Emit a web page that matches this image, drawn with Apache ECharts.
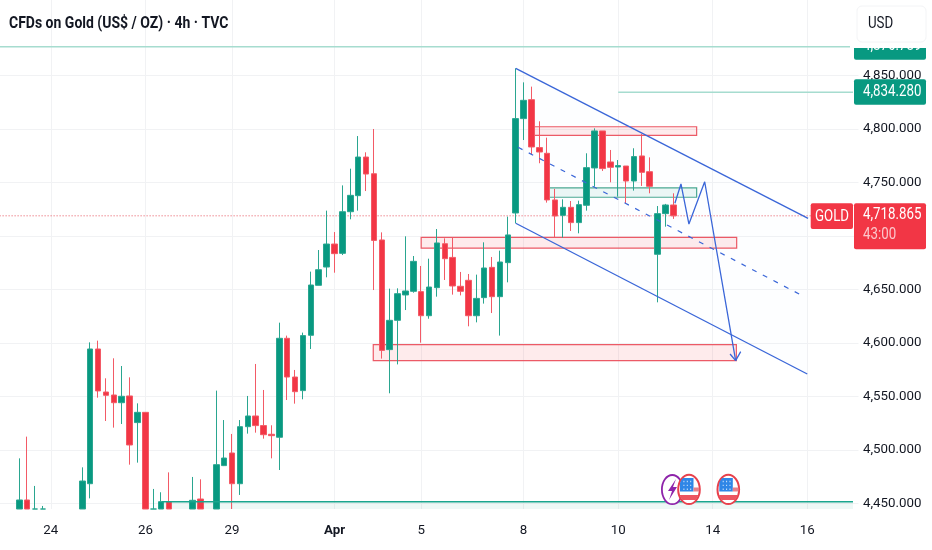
<!DOCTYPE html>
<html>
<head>
<meta charset="utf-8">
<style>html,body{margin:0;padding:0;background:#fff}#c{width:932px;height:550px}</style>
<script src="https://cdn.jsdelivr.net/npm/echarts@6/dist/echarts.min.js"></script>
</head>
<body>
<div id="c"></div>
<script>
// ---------- values (slot index = one 4h bar) ----------
const tickSlots = [6,18,29,42,53,66,78,90,102];
const tickLabels = ['24','26','29','Apr','5','8','10','14','16'];
const priceTicks = [4450,4500,4550,4600,4650,4700,4750,4800,4850];
const N = null;
const F = 4444.86; // parts of a bar below the visible floor of the chart
const opens = [N,N,F,4453.3,F,F,N,N,N,N,F,4468.5,4594.4,4554.2,4551.4,4544.2,4550.5,4525.6,4535.2,F,F,4451.7,N,N,F,4454.2,N,F,4485.4,4497.2,4468.5,4521.8,4531.8,4522.8,4514.7,4511.9,4604.4,4568.2,4555.5,4607.2,4653.9,4671,4692.5,4683.8,4722.7,4737.7,4773.8,4758.2,4696.3,4593.8,4621.2,4644.9,4648.3,4648,4625.5,4651.7,4692.8,4680,4653,4658.6,4625.5,4642.4,4670.7,4643.3,4675.1,4721.5,4809.7,4827.4,4782.6,4777.3,4733.7,4719.3,4726.8,4712.5,4728.7,4763.6,4798.2,4769.2,4764.5,4765.4,4751.4,4774.8,4760.1,4682.9,4720.9,4729];
const closes = [N,N,4453.3,F,F,F,N,N,N,N,4471,4594.4,4555.2,4551.1,4544.2,4550.2,4504.7,4535.2,F,F,4451.7,F,N,N,4453,F,N,4486.3,4492.5,4468.5,4521.8,4531.8,4522.8,4514.3,4513.4,4604.4,4568.2,4554.5,4606.9,4654.2,4668.5,4692.5,4683.5,4722.7,4738,4773.8,4757.9,4695.9,4593.1,4621.2,4646.1,4648.6,4676.3,4625.5,4652.3,4693.5,4678.8,4653.3,4648.3,4625.5,4641.7,4670.1,4643.3,4675.7,4701,4809.7,4826.8,4783.2,4778.5,4733.7,4718.7,4726.8,4712.5,4729.3,4763.9,4798.2,4763,4764.2,4765.8,4751.4,4774.2,4759.5,4746.4,4720.9,4729,4718.865];
const lows = [N,N,F,F,F,F,N,N,N,N,F,4454.8,4548.9,4527.1,4520.9,4524.3,4486.3,4488.2,F,F,F,F,N,N,F,F,N,F,4485,F,4458,4515.3,4516.2,4510.6,4492.2,4481.3,4546.7,4543.3,4547.4,4594.4,4653.9,4661.4,4665.7,4682.2,4715.6,4723.7,4742,4649.5,4585.4,4553,4580,4630.8,4647,4600.3,4622.7,4643.3,4658.9,4645.2,4644.5,4615.6,4619.3,4636.8,4628,4606.9,4656.7,4711.9,4789.7,4775.7,4768,4731.2,4698.5,4698.5,4704.7,4702.5,4723.7,4746.1,4760.8,4750.2,4736.8,4730.6,4742.4,4746.8,4739.9,4638,4708.7,4716];
const highs = [N,N,4492.2,4512.5,4466.4,4447.7,N,N,N,N,4483.8,4600.6,4602.2,4567,4585.7,4578.5,4567.9,4543.6,4535.5,4463.6,4460.5,4479.1,N,N,4474.8,4472.6,N,4555.5,4528,4515,4528,4550.5,4580.4,4556.1,4523.1,4619,4606.9,4574.8,4609.7,4666.7,4686.9,4723.7,4703.7,4747.3,4762.9,4793.4,4778.2,4800,4703.4,4650.8,4651.1,4699.7,4681.3,4672,4678.8,4706.5,4697.8,4698.4,4666.4,4664.5,4663.9,4694.1,4680.4,4686.3,4718.1,4856.7,4843.6,4839.6,4807.2,4791.9,4744,4734.3,4732.7,4733,4777.3,4800.6,4798.2,4780.4,4771,4765.4,4782,4795.3,4773.5,4728,4730,4739.9];

const channelUpper = [[65,4856.7],[102.1,4716.4]];
const channelLower = [[65,4711.9],[102,4571]];
const channelMid = [[65.3,4782.9],[101.7,4643]];
const projection = [[85.2,4730.6],[85.97,4748.6],[86.98,4711.2],[88.98,4750.7],[92.91,4583.5]];
const arrowHead = [[92.2,4589.7],[92.91,4583.5],[93.55,4591.9]];
const redZones = [[67.06,87.96,4802.1,4794.1],[53,93.04,4698.8,4688.6],[46.92,93,4598.4,4583.5]];
const greenZones = [[69.13,87.96,4744.9,4736.2]];
const floorZone = [[20.07,107.8,4451.7,4444.86]];
const floorLine = [[20.07,4451.7],[107.8,4451.7]];
const topLevel = [[-0.5,4876.9],[107.8,4876.9]];
const targetLevel = [[78,4834.28],[107.8,4834.28]];
const lastPrice = [[-0.5,4718.865],[107.8,4718.865]];

const SLOTS = 109;
const categories = Array.from({length:SLOTS},(_,i)=>String(i));
const candles = categories.map((_,i)=> opens[i]==null ? '-' : [opens[i],closes[i],lows[i],highs[i]]);

const FONT = 'Roboto,sans-serif';
const GREEN='#089981', RED='#F23645', BLUE='#3a66d8', INK='#131722', GRID='#f1f2f4';

function zoneSeries(data,fill,stroke,z,lw){
  return {type:'custom',xAxisIndex:1,yAxisIndex:0,z,silent:true,clip:true,data,
    encode:{x:[0,1],y:[2,3]},
    renderItem(p,api){
      const a=api.coord([api.value(0),api.value(2)]), b=api.coord([api.value(1),api.value(3)]);
      return {type:'rect',shape:{x:a[0],y:a[1],width:b[0]-a[0],height:b[1]-a[1]},
        style:{fill,stroke,lineWidth:lw}};
    }};
}
function lineSeries(data,color,width,z,type){
  return {type:'line',xAxisIndex:1,yAxisIndex:0,data,z,silent:true,showSymbol:false,symbol:'none',
    lineStyle:{color,width,type:type||'solid'},clip:true};
}
const channelFillData=[channelUpper[0],channelUpper[1],channelLower[1],channelLower[0]];

// ---------- decoration (badges and event icons) ----------
function clipped(cx,cy,rx,ry,x0,x1,y0,y1){
  const L=[],R=[];
  for(let i=0;i<=14;i++){
    const y=y0+(y1-y0)*i/14, t=(y-cy)/ry, w=rx*Math.sqrt(Math.max(0,1-t*t));
    L.push([Math.max(x0,Math.min(x1,cx-w)),y]); R.unshift([Math.min(x1,Math.max(x0,cx+w)),y]);
  }
  return L.concat(R);
}
function flag(cx,cy){
  const rx=10.8, ry=14.6, els=[];
  els.push({type:'ellipse',z:90,shape:{cx,cy,rx,ry},style:{fill:'#fff',stroke:'#e8404c',lineWidth:2}});
  els.push({type:'polygon',z:91,shape:{points:clipped(cx,cy,rx-.6,ry-.6,cx-9,cx+4.5,cy-11.5,cy+2)},style:{fill:'#2f86e6'}});
  for(let i=0;i<3;i++)for(let j=0;j<3;j++)
    els.push({type:'rect',z:92,shape:{x:cx-5.6+i*3.4,y:cy-8.6+j*3.9,width:1,height:1.4},style:{fill:'#cfe4fb'}});
  els.push({type:'polygon',z:91,shape:{points:clipped(cx,cy,rx-.6,ry-.6,cx+4.5,cx+11,cy-2,cy+2)},style:{fill:'#e8818a'}});
  els.push({type:'polygon',z:91,shape:{points:clipped(cx,cy,rx-.6,ry-.6,cx-11,cx+11,cy+5.5,cy+10.5)},style:{fill:'#ec5560'}});
  return els;
}
function badge(x,y,w,h,fill,r){return {type:'rect',z:100,shape:{x,y,width:w,height:h,r:r||2},style:{fill}};}
function txt(x,y,text,fill,opt,z){
  return {type:'text',z:z||102,x,y,scaleY:1.2,style:Object.assign({text,fill,font:'13.3px '+FONT,verticalAlign:'middle'},opt||{})};
}
const graphics=[
  {type:'ellipse',z:88,shape:{cx:672.3,cy:489.6,rx:10.4,ry:14.6},style:{fill:'#fff',stroke:'#8e24aa',lineWidth:1.8}},
  {type:'polygon',z:89,shape:{points:[[676,479],[668,491],[672,491],[669,500],[677,487],[673,487]]},style:{fill:'#8e24aa'}},
  ...flag(689,489.4),
  ...flag(728.3,489.4),
  badge(854,33,72,26.7,GREEN),
  txt(863,46.2,'4,876.789','#fff'),
  {type:'rect',z:103,shape:{x:850,y:0,width:82,height:48},style:{fill:'#fff'}},
  {type:'rect',z:104,shape:{x:857,y:6,width:69,height:36,r:5},style:{fill:'#fff',stroke:'#f3f4f6',lineWidth:1}},
  txt(868,24,'USD',INK,null,105),
  badge(854,79.3,72,25.4,GREEN),
  txt(863,91.6,'4,834.280','#fff'),
  badge(810.7,203.3,42.3,25.8,RED),
  txt(832,217,'GOLD','#fff',{align:'center'}),
  badge(854,203.3,72,46,RED),
  txt(863,215,'4,718.865','#fff'),
  txt(863,235,'43:00','rgba(255,255,255,.72)'),
  txt(9,24,'CFDs on Gold (US$ / OZ) · 4h · TVC','#131722',{font:'bold 14px '+FONT})
];

const chart=echarts.init(document.getElementById('c'),null,{renderer:'canvas'});
chart.setOption({
  animation:false,
  backgroundColor:'#fff',
  grid:{left:-0.4,top:0,width:858.9,height:509,containLabel:false,outerBoundsMode:'none'},
  xAxis:[
    {type:'category',data:categories,show:false,boundaryGap:true},
    {type:'value',position:'bottom',min:-0.5,max:SLOTS-0.5,
      axisLine:{show:false},
      axisTick:{show:false,customValues:tickSlots},
      splitLine:{show:true,lineStyle:{color:GRID,width:1}},
      axisLabel:{show:true,customValues:tickSlots,margin:15,
        color:INK,fontFamily:FONT,fontSize:13.3,
        formatter:v=>{const s=tickLabels[tickSlots.indexOf(v)]||'';return s==='Apr'?'{b|Apr}':s;},
        rich:{b:{fontWeight:'bold',fontFamily:FONT,fontSize:13.3,color:INK}}}}
  ],
  yAxis:{type:'value',position:'right',scale:true,min:4444.86,max:4920.56,
    axisLine:{show:false},
    axisTick:{show:false,customValues:priceTicks},
    splitLine:{show:true,lineStyle:{color:GRID,width:1}},
    axisLabel:{show:true,customValues:priceTicks,margin:4.5,color:INK,fontFamily:FONT,fontSize:13.3,
      padding:[0,0,3,0],
      formatter:v=>v.toLocaleString('en-US',{minimumFractionDigits:3,maximumFractionDigits:3})}},
  series:[
    {type:'custom',xAxisIndex:1,yAxisIndex:0,z:1,silent:true,data:channelFillData,encode:{x:0,y:1},
      renderItem(p,api){
        if(p.dataIndex!==0)return null;
        return {type:'polygon',shape:{points:channelFillData.map(d=>api.coord(d))},
          style:{fill:'rgba(80,140,255,0.012)'}};
      }},
    zoneSeries(floorZone,'rgba(8,153,129,0.07)','none',1,0),
    zoneSeries(redZones,'rgba(242,54,69,0.10)','#ec5a66',1,1.2),
    zoneSeries(greenZones,'rgba(8,153,129,0.08)','#4aa892',1,1.2),
    lineSeries(lastPrice,'#e5505c',1,1,[1,2]),
    {type:'candlestick',xAxisIndex:0,yAxisIndex:0,z:2,data:candles,barWidth:6,clip:true,silent:true,
      itemStyle:{color:GREEN,color0:RED,borderColor:'#2aa690',borderColor0:'#f35a66',borderWidth:1}},
    lineSeries(topLevel,'#a6dccf',1.4,3),
    lineSeries(targetLevel,'#a6dccf',1.4,3),
    lineSeries(floorLine,'#1aa58e',1.4,3),
    lineSeries(channelUpper,BLUE,1.3,4),
    lineSeries(channelLower,BLUE,1.3,4),
    lineSeries(channelMid,BLUE,1.2,4,[5,7]),
    lineSeries(projection,BLUE,1.3,4),
    lineSeries(arrowHead,BLUE,1.3,4)
  ],
  graphic:graphics
});
</script>
</body>
</html>
